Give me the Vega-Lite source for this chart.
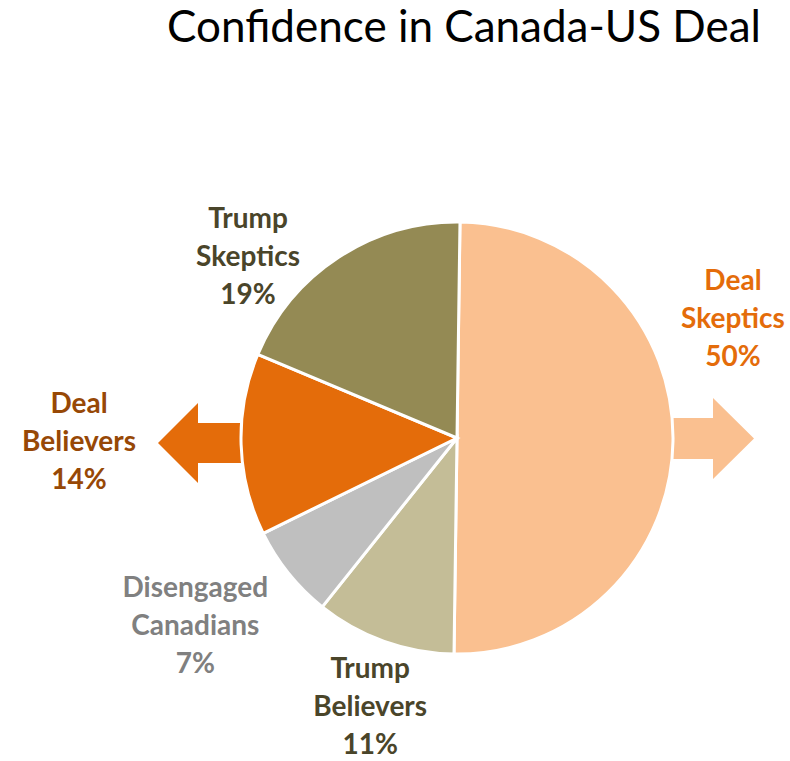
{
  "$schema": "https://vega.github.io/schema/vega-lite/v6.json",
  "width": 432,
  "height": 432,
  "autosize": "none",
  "padding": {"left": 241, "top": 222, "right": 117, "bottom": 107},
  "background": "white",
  "config": {"view": {"stroke": null}},
  "title": {
    "text": "Confidence in Canada-US Deal",
    "font": "Lato",
    "fontSize": 44,
    "fontWeight": "normal",
    "color": "#000000",
    "anchor": "middle",
    "offset": 16,
    "dx": 7
  },
  "data": {
    "values": [
      {"segment": "Deal Skeptics", "rank": 1, "pct": 50, "label": "Deal\nSkeptics\n50%"},
      {"segment": "Trump Believers", "rank": 2, "pct": 10.5, "label": "Trump\nBelievers\n11%"},
      {"segment": "Disengaged Canadians", "rank": 3, "pct": 7, "label": "Disengaged\nCanadians\n7%"},
      {"segment": "Deal Believers", "rank": 4, "pct": 13.6, "label": "Deal\nBelievers\n14%"},
      {"segment": "Trump Skeptics", "rank": 5, "pct": 18.9, "label": "Trump\nSkeptics\n19%"}
    ]
  },
  "layer": [
    {
      "transform": [{"filter": {"field": "segment", "oneOf": ["Deal Skeptics", "Deal Believers"]}}],
      "mark": {"type": "point", "filled": true, "size": 4, "opacity": 1, "strokeWidth": 0},
      "encoding": {
        "color": {"field": "segment", "type": "nominal", "legend": null},
        "shape": {
          "field": "segment",
          "type": "nominal",
          "legend": null,
          "scale": {
            "domain": ["Deal Skeptics", "Deal Believers"],
            "range": ["M160,-20L256,-20L256,-40L297,0.5L256,41L256,21L160,21Z", "M-160,-15L-259,-15L-259,-35L-299,5L-259,45L-259,25L-160,25Z"]
          }
        }
      }
    },
    {
      "mark": {"type": "arc", "stroke": "white", "strokeWidth": 3},
      "encoding": {
        "theta": {"field": "pct", "type": "quantitative", "stack": true, "scale": {"range": [0.014, 6.297]}},
        "order": {"field": "rank", "type": "quantitative"},
        "color": {
          "field": "segment",
          "type": "nominal",
          "legend": null,
          "scale": {
            "domain": ["Deal Skeptics", "Trump Believers", "Disengaged Canadians", "Deal Believers", "Trump Skeptics"],
            "range": ["#FAC090", "#C4BD97", "#BFBFBF", "#E46C0A", "#948A54"]
          }
        }
      }
    },
    {
      "mark": {"type": "text", "radius": 300, "thetaOffset": -0.417, "dy": -38, "color": "#E46C0A", "font": "Lato", "fontSize": 28, "fontWeight": "bold", "lineBreak": "\n", "lineHeight": 38, "align": "center", "baseline": "middle"},
      "encoding": {
        "theta": {"field": "pct", "type": "quantitative", "stack": true},
        "order": {"field": "rank", "type": "quantitative"},
        "detail": {"field": "segment", "type": "nominal"},
        "text": {"condition": {"test": "datum.segment === 'Deal Skeptics'", "field": "label"}, "value": ""}
      }
    },
    {
      "mark": {"type": "text", "radius": 284, "thetaOffset": -0.033, "dy": -38, "color": "#4A452A", "font": "Lato", "fontSize": 28, "fontWeight": "bold", "lineBreak": "\n", "lineHeight": 38, "align": "center", "baseline": "middle"},
      "encoding": {
        "theta": {"field": "pct", "type": "quantitative", "stack": true},
        "order": {"field": "rank", "type": "quantitative"},
        "detail": {"field": "segment", "type": "nominal"},
        "text": {"condition": {"test": "datum.segment === 'Trump Believers'", "field": "label"}, "value": ""}
      }
    },
    {
      "mark": {"type": "text", "radius": 323, "thetaOffset": 0.051, "dy": -38, "color": "#808080", "font": "Lato", "fontSize": 28, "fontWeight": "bold", "lineBreak": "\n", "lineHeight": 38, "align": "center", "baseline": "middle"},
      "encoding": {
        "theta": {"field": "pct", "type": "quantitative", "stack": true},
        "order": {"field": "rank", "type": "quantitative"},
        "detail": {"field": "segment", "type": "nominal"},
        "text": {"condition": {"test": "datum.segment === 'Disengaged Canadians'", "field": "label"}, "value": ""}
      }
    },
    {
      "mark": {"type": "text", "radius": 378, "thetaOffset": 0.016, "dy": -38, "color": "#974806", "font": "Lato", "fontSize": 28, "fontWeight": "bold", "lineBreak": "\n", "lineHeight": 38, "align": "center", "baseline": "middle"},
      "encoding": {
        "theta": {"field": "pct", "type": "quantitative", "stack": true},
        "order": {"field": "rank", "type": "quantitative"},
        "detail": {"field": "segment", "type": "nominal"},
        "text": {"condition": {"test": "datum.segment === 'Deal Believers'", "field": "label"}, "value": ""}
      }
    },
    {
      "mark": {"type": "text", "radius": 276, "thetaOffset": -0.279, "dy": -38, "color": "#4A452A", "font": "Lato", "fontSize": 28, "fontWeight": "bold", "lineBreak": "\n", "lineHeight": 38, "align": "center", "baseline": "middle"},
      "encoding": {
        "theta": {"field": "pct", "type": "quantitative", "stack": true},
        "order": {"field": "rank", "type": "quantitative"},
        "detail": {"field": "segment", "type": "nominal"},
        "text": {"condition": {"test": "datum.segment === 'Trump Skeptics'", "field": "label"}, "value": ""}
      }
    }
  ]
}
